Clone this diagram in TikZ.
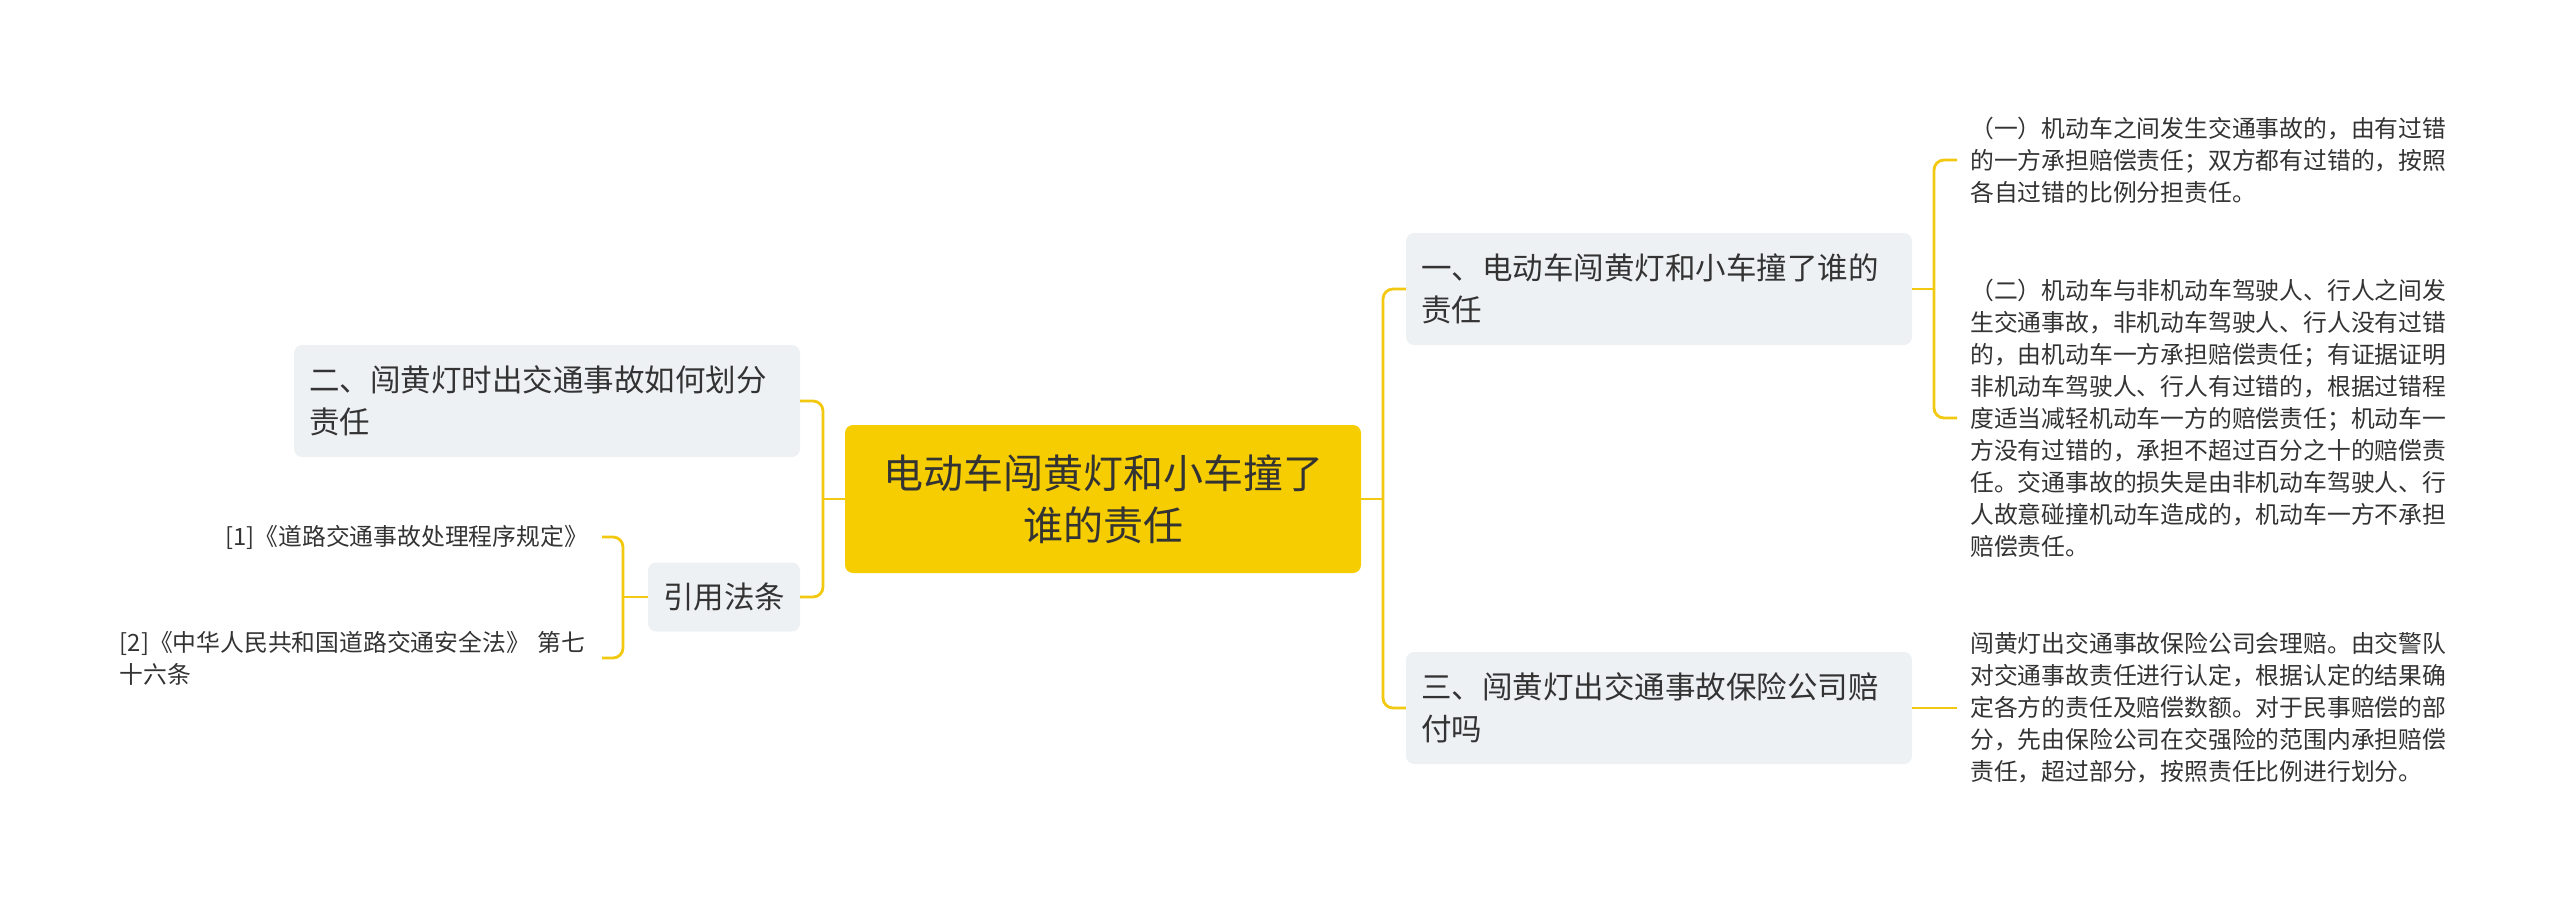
\documentclass[tikz,border=0pt]{standalone}
\usepackage{fontspec}
\setmainfont{Noto Sans CJK SC}
\definecolor{rootyellow}{HTML}{F5CD00}
\definecolor{boxgrey}{HTML}{EEF1F4}
\definecolor{lineyellow}{HTML}{F2C811}
\definecolor{textgrey}{HTML}{333333}
\begin{document}
\begin{tikzpicture}[x=1pt,y=-1pt]
\useasboundingbox (0,0) rectangle (2560,899);
\begin{scope}[text=textgrey,
              line/.style={draw=lineyellow,line width=2.8pt,rounded corners=10pt},
              block0/.style={rectangle,fill=rootyellow,rounded corners=8pt,align=center,text width=476pt,inner xsep=20pt,minimum height=148pt,font=\fontsize{40pt}{52pt}\selectfont},
              block1/.style={rectangle,fill=boxgrey,rounded corners=8pt,align=left,text width=476pt,inner xsep=15pt,minimum height=112pt,font=\fontsize{30.5pt}{42pt}\selectfont},
              block2/.style={rectangle,align=left,text width=478pt,inner xsep=13pt,anchor=west,font=\fontsize{23.8pt}{32pt}\selectfont},
              block3/.style={rectangle,align=left,text width=468pt,inner xsep=14pt,anchor=east,font=\fontsize{23.8pt}{32pt}\selectfont}]
    \node [block0] (1) at (1103,499) {电动车闯黄灯和小车撞了\\谁的责任};
    \node [block1] (2) at (1659,289) {一、电动车闯黄灯和小车撞了谁的\\责任};
    \node [block1] (3) at (1659,708) {三、闯黄灯出交通事故保险公司赔\\付吗};
    \node [block1] (4) at (547,401) {二、闯黄灯时出交通事故如何划分\\责任};
    \node [block1,text width=122pt,minimum height=69pt] (5) at (724,597) {引用法条};
    \node [block2] (6) at (1957,160) {（一）机动车之间发生交通事故的，由有过错\\的一方承担赔偿责任；双方都有过错的，按照\\各自过错的比例分担责任。};
    \node [block2] (7) at (1957,418) {（二）机动车与非机动车驾驶人、行人之间发\\生交通事故，非机动车驾驶人、行人没有过错\\的，由机动车一方承担赔偿责任；有证据证明\\非机动车驾驶人、行人有过错的，根据过错程\\度适当减轻机动车一方的赔偿责任；机动车一\\方没有过错的，承担不超过百分之十的赔偿责\\任。交通事故的损失是由非机动车驾驶人、行\\人故意碰撞机动车造成的，机动车一方不承担\\赔偿责任。};
    \node [block2] (8) at (1957,708) {闯黄灯出交通事故保险公司会理赔。由交警队\\对交通事故责任进行认定，根据认定的结果确\\定各方的责任及赔偿数额。对于民事赔偿的部\\分，先由保险公司在交强险的范围内承担赔偿\\责任，超过部分，按照责任比例进行划分。};
    \node [block3,align=right] (9) at (602,537) {[1]《道路交通事故处理程序规定》};
    \node [block3] (10) at (602,658) {[2]《中华人民共和国道路交通安全法》~第七\\十六条};
    \coordinate (r) at (1383,499);
    \coordinate (l) at (823,499);
    \coordinate (c) at (623,597);
    \coordinate (a) at (1934,289);
    \draw [line] (1.east) -- (r);
    \draw [line] (2.west) -| (r) |- (3.west);
    \draw [line] (1.west) -- (l);
    \draw [line] (4.east) -| (l) |- (5.east);
    \draw [line] (5.west) -- (c);
    \draw [line] (9.east) -| (c) |- (10.east);
    \draw [line] (2.east) -- (a);
    \draw [line] (6.west) -| (a) |- (7.west);
    \draw [line] (3.east) -- (8.west);
\end{scope}
\end{tikzpicture}
\end{document}
